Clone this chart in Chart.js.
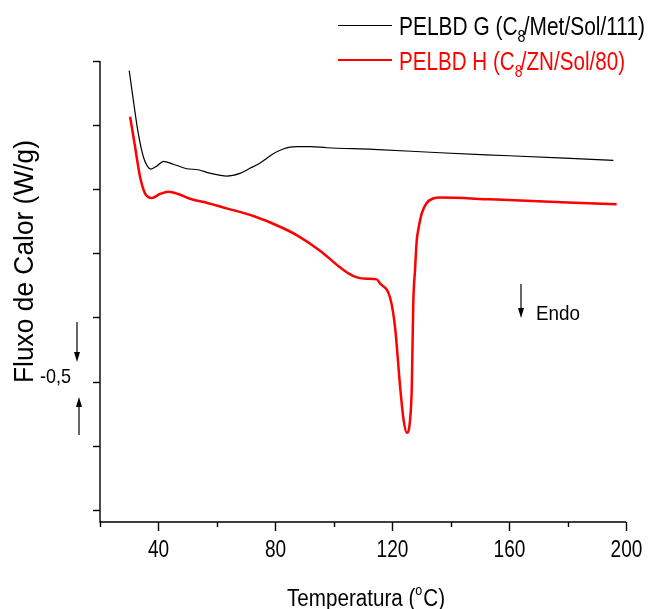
<!DOCTYPE html>
<html>
<head>
<meta charset="utf-8">
<script src="https://cdn.jsdelivr.net/npm/chart.js@4.4.1/dist/chart.umd.min.js"></script>
<style>
  html, body { margin: 0; padding: 0; background: #fff; }
  canvas { display: block; }
</style>
</head>
<body>
<canvas id="dscChart" width="648" height="609"></canvas>
<script>
// DSC curves, temperatura (°C) vs fluxo de calor (W/g)
const tempG = [30.0, 31.4, 33.1, 34.8, 36.2, 37.4, 39.4, 41.7, 45.1, 49.7, 53.6, 57.6, 63.4, 67.9, 71.3, 74.8, 77.1, 79.3, 82.7, 85.0, 88.0, 92.0, 97.6, 113.5, 136.4, 160.0, 195.7];
const flowG = [-0.015, -0.061, -0.113, -0.149, -0.164, -0.1685, -0.164, -0.1565, -0.161, -0.168, -0.1696, -0.175, -0.1794, -0.1752, -0.1674, -0.159, -0.1515, -0.1445, -0.1372, -0.1343, -0.1335, -0.1334, -0.1353, -0.1378, -0.1431, -0.1478, -0.1549];

const tempH = [30.3, 32.0, 33.7, 35.4, 37.7, 40.5, 43.4, 46.8, 50.8, 56.5, 63.3, 72.5, 81.6, 87.3, 95.3, 102.1, 105.0, 107.9, 111.3, 114.7, 115.8, 119.3, 121.0, 122.7, 123.9, 125.0, 126.1, 126.7, 127.2, 127.8, 128.4, 128.9, 130.1, 131.8, 134.0, 136.4, 153.5, 196.8];
const flowH = [-0.0869, -0.1337, -0.1805, -0.2064, -0.2137, -0.2075, -0.2039, -0.2075, -0.2148, -0.2211, -0.2298, -0.2418, -0.2585, -0.2715, -0.2959, -0.3218, -0.3312, -0.3374, -0.3396, -0.3406, -0.3468, -0.3697, -0.4165, -0.5081, -0.5601, -0.5799, -0.5601, -0.5081, -0.378, -0.3261, -0.2793, -0.2637, -0.2376, -0.2215, -0.2145, -0.213, -0.2158, -0.2236];

const xTickValues = [20, 40, 60, 80, 100, 120, 140, 160, 180, 200];
const xLabelValues = [40, 80, 120, 160, 200];
const yTickValues = [0, -0.1, -0.2, -0.3, -0.4, -0.5, -0.6, -0.7];
const yLabelValue = -0.5;
const yLabelText = '-0,5';

const FONT = '"Liberation Sans Narrow", "Liberation Sans", Arial, sans-serif';

// parts: [text, size, dy, extraAdvance]; squeezed horizontally to the given width
function drawParts(ctx, parts, x, y, width, color) {
  ctx.save();
  let natural = 0;
  parts.forEach(p => {
    ctx.font = p[1] + 'px ' + FONT;
    natural += ctx.measureText(p[0]).width + (p[3] || 0);
  });
  const sx = width ? width / natural : 1;
  ctx.translate(x, y);
  ctx.scale(sx, 1);
  ctx.fillStyle = color;
  ctx.textAlign = 'left';
  ctx.textBaseline = 'alphabetic';
  let cx = 0;
  parts.forEach(p => {
    ctx.font = p[1] + 'px ' + FONT;
    ctx.fillText(p[0], cx, p[2]);
    cx += ctx.measureText(p[0]).width + (p[3] || 0);
  });
  ctx.restore();
}

function arrow(ctx, x, yFrom, yTo) {
  const dir = yTo > yFrom ? 1 : -1;
  ctx.beginPath();
  ctx.moveTo(x, yFrom);
  ctx.lineTo(x, yTo - dir * 8);
  ctx.stroke();
  ctx.beginPath();
  ctx.moveTo(x - 3, yTo - dir * 10);
  ctx.lineTo(x + 3, yTo - dir * 10);
  ctx.lineTo(x, yTo);
  ctx.closePath();
  ctx.fill();
}

const decorations = {
  id: 'decorations',
  afterDraw(chart) {
    const ctx = chart.ctx;
    const area = chart.chartArea;
    const xs = chart.scales.x;
    const ys = chart.scales.y;
    ctx.save();
    ctx.strokeStyle = '#000';
    ctx.fillStyle = '#000';
    ctx.lineWidth = 1.4;

    // axis lines
    ctx.beginPath();
    ctx.moveTo(area.left, area.top);
    ctx.lineTo(area.left, area.bottom);
    ctx.lineTo(area.right, area.bottom);
    ctx.stroke();

    // x ticks and labels
    xTickValues.forEach(v => {
      const px = Math.round(xs.getPixelForValue(v)) + 0.5;
      const major = xLabelValues.includes(v);
      ctx.beginPath();
      ctx.moveTo(px, area.bottom);
      ctx.lineTo(px, area.bottom + (major ? 9 : 5));
      ctx.stroke();
      if (major) {
        const s = String(v);
        const w = s.length * 10.6;
        drawParts(ctx, [[s, 23, 0]], px - w / 2, 557, w, '#000');
      }
    });

    // y ticks and the single label
    yTickValues.forEach(v => {
      const py = Math.round(ys.getPixelForValue(v)) + 0.5;
      ctx.beginPath();
      ctx.moveTo(area.left - 7, py);
      ctx.lineTo(area.left, py);
      ctx.stroke();
    });
    drawParts(ctx, [[yLabelText, 21, 0]], 40, ys.getPixelForValue(yLabelValue) + 1, 31, '#000');

    // axis titles
    drawParts(ctx, [['Temperatura (', 23, 0], ['o', 14, -11, 1], ['C)', 23, 0]], 287, 606, 158, '#000');
    ctx.save();
    ctx.translate(33, 383);
    ctx.rotate(-Math.PI / 2);
    drawParts(ctx, [['Fluxo de Calor (W/g)', 28, 0]], 0, 0, 243, '#000');
    ctx.restore();

    // heat flow direction arrows
    ctx.lineWidth = 1.2;
    arrow(ctx, 77, 322, 362);
    arrow(ctx, 79, 435, 397);
    arrow(ctx, 521, 284, 318);
    drawParts(ctx, [['Endo', 21, 0]], 536, 320, 44, '#000');

    // legend
    ctx.lineWidth = 1;
    ctx.beginPath();
    ctx.moveTo(338, 25.5);
    ctx.lineTo(392, 25.5);
    ctx.stroke();
    drawParts(ctx, [['PELBD G (C', 25, 0], ['8', 17, 7, -2], ['/Met/Sol/111)', 25, 0]], 399, 34.5, 246, '#000');
    ctx.strokeStyle = '#ff0000';
    ctx.lineWidth = 2;
    ctx.beginPath();
    ctx.moveTo(338, 60);
    ctx.lineTo(392, 60);
    ctx.stroke();
    drawParts(ctx, [['PELBD H (C', 25, 0], ['8', 17, 7, -2], ['/ZN/Sol/80)', 25, 0]], 399, 69.5, 226, '#ff0000');
    ctx.restore();
  }
};

const ctx = document.getElementById('dscChart').getContext('2d');
new Chart(ctx, {
  type: 'line',
  data: {
    datasets: [
      {
        label: 'PELBD G (C8/Met/Sol/111)',
        data: tempG.map((t, i) => ({ x: t, y: flowG[i] })),
        borderColor: '#000000',
        borderWidth: 1.2
      },
      {
        label: 'PELBD H (C8/ZN/Sol/80)',
        data: tempH.map((t, i) => ({ x: t, y: flowH[i] })),
        borderColor: '#ff0000',
        borderWidth: 2.5
      }
    ]
  },
  options: {
    responsive: false,
    animation: false,
    devicePixelRatio: 1,
    layout: { padding: { left: 100, right: 22, top: 61, bottom: 87 } },
    elements: {
      point: { radius: 0 },
      line: { cubicInterpolationMode: 'monotone', fill: false }
    },
    plugins: {
      legend: { display: false },
      tooltip: { enabled: false }
    },
    scales: {
      x: { type: 'linear', min: 20, max: 200, display: false },
      y: { type: 'linear', min: -0.719, max: 0, display: false }
    }
  },
  plugins: [decorations]
});
</script>
</body>
</html>
